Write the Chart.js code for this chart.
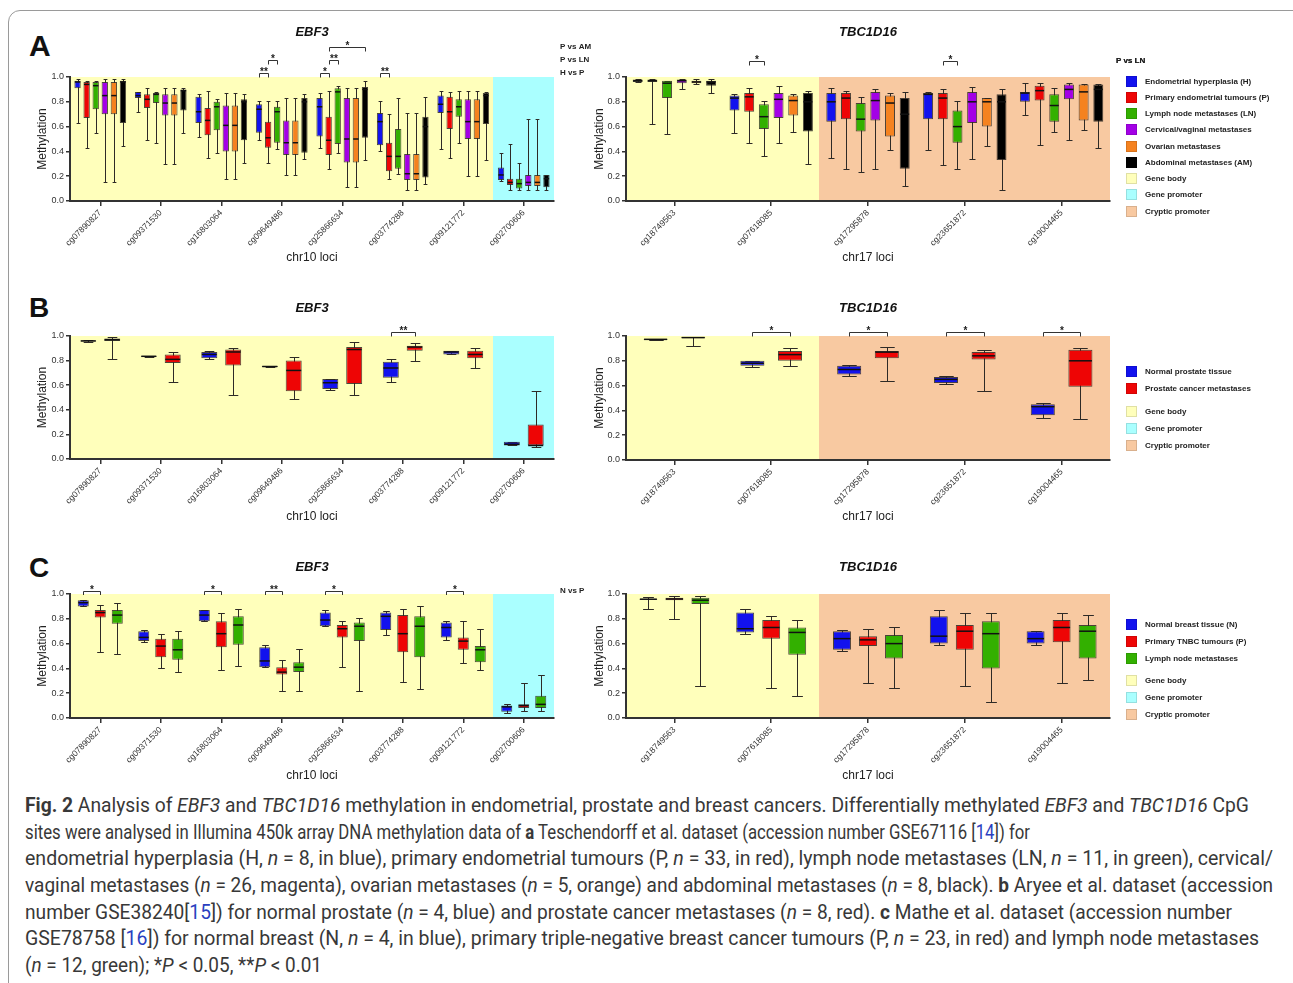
<!DOCTYPE html>
<html><head><meta charset="utf-8">
<script src="https://cdn.jsdelivr.net/npm/chart.js@4.4.1/dist/chart.umd.min.js"></script>
<style>
html,body{margin:0;padding:0;background:#fff;}
body{width:1293px;height:983px;position:relative;overflow:hidden;font-family:'Liberation Sans',Arial,sans-serif;}
.card{position:absolute;left:8px;top:10px;width:1320px;height:1010px;border:1px solid #9a9a9a;border-radius:12px;box-sizing:border-box;}
canvas{position:absolute;}
.letter{position:absolute;font-weight:bold;line-height:1;color:#111;}
.lg{position:absolute;font-size:8px;font-weight:bold;color:#222;white-space:nowrap;line-height:11px;}
.sw{position:absolute;width:11px;height:11px;box-sizing:border-box;border:1px solid rgba(0,0,0,0.12);}
.cap{position:absolute;left:25px;white-space:nowrap;font-family:Roboto,'DejaVu Sans Condensed',sans-serif;font-size:20px;line-height:24px;color:#383838;transform-origin:0 50%;}
.cap .ref{color:#2a3fc0;}
</style></head>
<body>
<div class="card"></div>
<div class="letter" style="left:29px;top:31px;font-size:30px;">A</div>
<div class="letter" style="left:29px;top:294px;font-size:28px;">B</div>
<div class="letter" style="left:29px;top:554px;font-size:28px;">C</div>

<div class="cap" style="top:793px"><b>Fig. 2</b> Analysis of <i>EBF3</i> and <i>TBC1D16</i> methylation in endometrial, prostate and breast cancers. Differentially methylated <i>EBF3</i> and <i>TBC1D16</i> CpG</div>
<div class="cap" style="top:820px">sites were analysed in Illumina 450k array DNA methylation data of <b>a</b> Teschendorff et al. dataset (accession number GSE67116 [<span class="ref">14</span>]) for</div>
<div class="cap" style="top:846px">endometrial hyperplasia (H, <i>n</i> = 8, in blue), primary endometrial tumours (P, <i>n</i> = 33, in red), lymph node metastases (LN, <i>n</i> = 11, in green), cervical/</div>
<div class="cap" style="top:873px">vaginal metastases (<i>n</i> = 26, magenta), ovarian metastases (<i>n</i> = 5, orange) and abdominal metastases (<i>n</i> = 8, black). <b>b</b> Aryee et al. dataset (accession</div>
<div class="cap" style="top:900px">number GSE38240[<span class="ref">15</span>]) for normal prostate (<i>n</i> = 4, blue) and prostate cancer metastases (<i>n</i> = 8, red). <b>c</b> Mathe et al. dataset (accession number</div>
<div class="cap" style="top:926px">GSE78758 [<span class="ref">16</span>]) for normal breast (N, <i>n</i> = 4, in blue), primary triple-negative breast cancer tumours (P, <i>n</i> = 23, in red) and lymph node metastases</div>
<div class="cap" style="top:953px">(<i>n</i> = 12, green); *<i>P</i> &lt; 0.05, **<i>P</i> &lt; 0.01</div>

<script>
// ---------------- DATA ----------------
const EBF3_LOCI = ['cg07890827','cg09371530','cg16803064','cg09649486','cg25866634','cg03774288','cg09121772','cg02700606'];
const TBC1D16_LOCI = ['cg18749563','cg07618085','cg17295878','cg23651872','cg19004465'];
const EBF3_REGIONS = ['body','body','body','body','body','body','body','promoter'];
const TBC1D16_REGIONS = ['body','body','cryptic','cryptic','cryptic'];
const Y_TICKS = [0, 0.2, 0.4, 0.6, 0.8, 1.0];

const GROUPS_A = ['Endometrial hyperplasia (H)','Primary endometrial tumours (P)','Lymph node metastases (LN)','Cervical/vaginal metastases','Ovarian metastases','Abdominal metastases (AM)'];
const GROUPS_B = ['Normal prostate tissue','Prostate cancer metastases'];
const GROUPS_C = ['Normal breast tissue (N)','Primary TNBC tumours (P)','Lymph node metastases'];
const REGION_NAMES = ['Gene body','Gene promoter','Cryptic promoter'];

// box stats: [min, q1, median, q3, max]
const A_EBF3_H  = [[0.63,0.91,0.96,0.97,0.98],[0.72,0.83,0.85,0.88,0.88],[0.52,0.63,0.72,0.84,0.86],[0.49,0.55,0.74,0.78,0.81],[0.43,0.52,0.76,0.83,0.87],[0.40,0.45,0.64,0.71,0.81],[0.42,0.71,0.78,0.85,0.89],[0.16,0.17,0.21,0.27,0.39]];
const A_EBF3_P  = [[0.43,0.67,0.94,0.96,0.97],[0.49,0.75,0.82,0.86,0.91],[0.35,0.53,0.65,0.75,0.89],[0.31,0.43,0.51,0.64,0.81],[0.26,0.37,0.49,0.68,0.89],[0.18,0.24,0.36,0.47,0.70],[0.35,0.58,0.72,0.84,0.88],[0.09,0.13,0.15,0.18,0.46]];
const A_EBF3_LN = [[0.55,0.74,0.93,0.96,0.97],[0.47,0.79,0.86,0.87,0.88],[0.39,0.57,0.76,0.80,0.82],[0.42,0.47,0.72,0.76,0.81],[0.39,0.46,0.88,0.91,0.93],[0.22,0.26,0.36,0.58,0.83],[0.47,0.68,0.76,0.82,0.89],[0.09,0.10,0.14,0.18,0.31]];
const A_EBF3_CV = [[0.15,0.70,0.85,0.96,0.98],[0.30,0.69,0.79,0.86,0.91],[0.18,0.40,0.61,0.77,0.87],[0.21,0.37,0.47,0.65,0.83],[0.11,0.31,0.50,0.83,0.91],[0.09,0.17,0.22,0.38,0.71],[0.20,0.50,0.64,0.82,0.89],[0.09,0.12,0.15,0.21,0.66]];
const A_EBF3_O  = [[0.15,0.70,0.85,0.96,0.98],[0.30,0.69,0.79,0.86,0.91],[0.18,0.40,0.61,0.77,0.87],[0.21,0.37,0.47,0.65,0.83],[0.11,0.31,0.50,0.83,0.91],[0.09,0.17,0.22,0.38,0.71],[0.20,0.50,0.64,0.82,0.89],[0.09,0.12,0.15,0.21,0.66]];
const A_EBF3_AM = [[0.44,0.63,0.96,0.97,0.98],[0.55,0.73,0.89,0.90,0.91],[0.31,0.49,0.80,0.82,0.86],[0.34,0.39,0.80,0.83,0.86],[0.33,0.51,0.90,0.92,0.97],[0.14,0.19,0.60,0.68,0.84],[0.33,0.62,0.85,0.87,0.88],[0.09,0.11,0.18,0.21,0.21]];

const A_TBC_H  = [[0.96,0.96,0.97,0.98,0.98],[0.55,0.73,0.83,0.85,0.86],[0.35,0.64,0.80,0.87,0.91],[0.41,0.66,0.86,0.87,0.88],[0.69,0.80,0.87,0.88,0.95]];
const A_TBC_P  = [[0.62,0.96,0.97,0.98,0.98],[0.47,0.72,0.84,0.87,0.91],[0.26,0.66,0.83,0.87,0.89],[0.29,0.66,0.83,0.87,0.90],[0.45,0.81,0.89,0.93,0.95]];
const A_TBC_LN = [[0.54,0.83,0.95,0.97,0.97],[0.36,0.58,0.68,0.78,0.81],[0.23,0.56,0.66,0.79,0.84],[0.26,0.47,0.60,0.73,0.81],[0.56,0.64,0.77,0.86,0.91]];
const A_TBC_CV = [[0.90,0.95,0.97,0.98,0.98],[0.47,0.67,0.82,0.87,0.93],[0.26,0.65,0.81,0.88,0.90],[0.34,0.63,0.80,0.88,0.92],[0.49,0.82,0.90,0.94,0.95]];
const A_TBC_O  = [[0.94,0.95,0.96,0.97,0.98],[0.56,0.69,0.81,0.85,0.86],[0.41,0.52,0.79,0.85,0.87],[0.44,0.60,0.80,0.83,0.83],[0.57,0.65,0.88,0.94,0.94]];
const A_TBC_AM = [[0.87,0.93,0.96,0.97,0.98],[0.30,0.56,0.80,0.87,0.89],[0.12,0.26,0.70,0.83,0.88],[0.09,0.33,0.80,0.86,0.90],[0.43,0.64,0.90,0.94,0.94]];

const B_EBF3_N = [[0.955,0.956,0.96,0.964,0.965],[0.83,0.832,0.835,0.838,0.84],[0.81,0.82,0.85,0.87,0.88],[0.745,0.747,0.752,0.756,0.758],[0.56,0.57,0.62,0.65,0.65],[0.63,0.66,0.74,0.79,0.81],[0.85,0.85,0.87,0.88,0.88],[0.11,0.11,0.12,0.14,0.14]];
const B_EBF3_M = [[0.81,0.96,0.97,0.98,0.99],[0.63,0.78,0.81,0.85,0.87],[0.52,0.76,0.87,0.89,0.90],[0.49,0.55,0.72,0.80,0.83],[0.52,0.61,0.89,0.91,0.95],[0.80,0.88,0.91,0.92,0.94],[0.74,0.82,0.85,0.88,0.90],[0.10,0.11,0.11,0.28,0.55]];
const B_TBC_N = [[0.968,0.969,0.973,0.976,0.978],[0.75,0.76,0.78,0.80,0.80],[0.68,0.69,0.73,0.76,0.77],[0.61,0.62,0.65,0.67,0.68],[0.34,0.36,0.43,0.45,0.46]];
const B_TBC_M = [[0.92,0.984,0.987,0.99,0.99],[0.76,0.80,0.85,0.88,0.90],[0.64,0.82,0.87,0.88,0.91],[0.56,0.81,0.84,0.87,0.89],[0.33,0.59,0.80,0.89,0.90]];

const C_EBF3_N  = [[0.90,0.90,0.93,0.95,0.95],[0.61,0.62,0.65,0.70,0.71],[0.78,0.78,0.83,0.87,0.87],[0.41,0.41,0.46,0.57,0.59],[0.74,0.74,0.79,0.85,0.87],[0.67,0.71,0.82,0.85,0.86],[0.63,0.65,0.73,0.77,0.78],[0.04,0.05,0.09,0.10,0.11]];
const C_EBF3_P  = [[0.53,0.81,0.85,0.87,0.91],[0.40,0.49,0.58,0.64,0.68],[0.39,0.57,0.68,0.78,0.85],[0.22,0.35,0.37,0.41,0.47],[0.41,0.65,0.72,0.75,0.78],[0.29,0.53,0.68,0.83,0.88],[0.44,0.55,0.62,0.65,0.78],[0.06,0.08,0.10,0.11,0.28]];
const C_EBF3_LN = [[0.52,0.76,0.83,0.87,0.93],[0.37,0.47,0.55,0.64,0.70],[0.42,0.59,0.75,0.82,0.88],[0.22,0.37,0.41,0.45,0.56],[0.22,0.62,0.74,0.77,0.81],[0.23,0.49,0.74,0.82,0.90],[0.39,0.45,0.55,0.58,0.72],[0.06,0.08,0.11,0.18,0.35]];
const C_TBC_N  = [[0.88,0.954,0.958,0.962,0.976],[0.68,0.69,0.72,0.85,0.88],[0.54,0.55,0.64,0.70,0.71],[0.59,0.60,0.66,0.82,0.87],[0.59,0.60,0.64,0.70,0.70]];
const C_TBC_P  = [[0.80,0.95,0.96,0.97,0.98],[0.24,0.64,0.73,0.79,0.82],[0.28,0.58,0.63,0.66,0.72],[0.26,0.55,0.70,0.75,0.85],[0.28,0.61,0.73,0.79,0.85]];
const C_TBC_LN = [[0.26,0.92,0.95,0.97,0.98],[0.18,0.51,0.69,0.73,0.79],[0.24,0.48,0.60,0.67,0.73],[0.13,0.40,0.68,0.78,0.85],[0.31,0.48,0.70,0.75,0.83]];

// significance: [locus index, group a, group b, label, comparison row]
const SIG_A_EBF3 = [[3,0,1,'**',0],[3,1,2,'*',1],[4,0,1,'*',0],[4,1,2,'**',1],[4,1,5,'*',2],[5,0,1,'**',0]];
const ROWS_A_EBF3 = ['H vs P','P vs LN','P vs AM'];
const SIG_A_TBC = [[1,1,2,'*',0],[3,1,2,'*',0]];
const ROWS_A_TBC = ['P vs LN'];
const SIG_B_EBF3 = [[5,0,1,'**',0]];
const SIG_B_TBC = [[1,0,1,'*',0],[2,0,1,'*',0],[3,0,1,'*',0],[4,0,1,'*',0]];
const SIG_C_EBF3 = [[0,0,1,'*',0],[2,0,1,'*',0],[3,0,1,'**',0],[4,0,1,'*',0],[6,0,1,'*',0]];
const ROWS_C_EBF3 = ['N vs P'];

// ---------------- STYLE ----------------
const FONT = "'Liberation Sans', Arial, sans-serif";
const COLORS_A = ['#1212ee','#ee0505','#33b000','#a300e6','#f5821f','#000000'];
const COLORS_B = ['#1212ee','#ee0505'];
const COLORS_C = ['#1212ee','#ee0505','#33b000'];
const REGION_COLORS = {body:'#ffffbb', promoter:'#aaffff', cryptic:'#f8c9a1'};

const boxPlugin = {
  id: 'boxes',
  beforeDraw(chart, args, o) {
    const {ctx, chartArea: a} = chart; const x = chart.scales.x;
    const n = o.regions.length;
    ctx.save();
    for (let i = 0; i < n; i++) {
      const l = i === 0 ? a.left : (x.getPixelForValue(i - 1) + x.getPixelForValue(i)) / 2;
      const r = i === n - 1 ? a.right : (x.getPixelForValue(i) + x.getPixelForValue(i + 1)) / 2;
      ctx.fillStyle = REGION_COLORS[o.regions[i]];
      ctx.fillRect(Math.floor(l), a.top, Math.ceil(r) - Math.floor(l), a.bottom - a.top);
    }
    ctx.restore();
  },
  beforeDatasetsDraw(chart) {
    const {ctx} = chart; const y = chart.scales.y;
    ctx.save(); ctx.strokeStyle = '#2e2a26'; ctx.lineWidth = 1;
    chart.data.datasets.forEach((ds, di) => {
      chart.getDatasetMeta(di).data.forEach((el, j) => {
        const s = ds.stats[j];
        const cx = Math.round(el.x) + 0.5, hw = el.width * 0.3;
        const y0 = Math.round(y.getPixelForValue(s[0])) + 0.5, y4 = Math.round(y.getPixelForValue(s[4])) + 0.5;
        ctx.beginPath();
        ctx.moveTo(cx, y0); ctx.lineTo(cx, y4);
        ctx.moveTo(cx - hw, y0); ctx.lineTo(cx + hw, y0);
        ctx.moveTo(cx - hw, y4); ctx.lineTo(cx + hw, y4);
        ctx.stroke();
      });
    });
    ctx.restore();
  },
  afterDatasetsDraw(chart) {
    const {ctx} = chart; const y = chart.scales.y;
    ctx.save(); ctx.strokeStyle = '#111'; ctx.lineWidth = 1.5;
    chart.data.datasets.forEach((ds, di) => {
      chart.getDatasetMeta(di).data.forEach((el, j) => {
        const s = ds.stats[j];
        const ym = y.getPixelForValue(s[2]);
        ctx.beginPath();
        ctx.moveTo(el.x - el.width / 2 + 0.5, ym); ctx.lineTo(el.x + el.width / 2 - 0.5, ym);
        ctx.stroke();
      });
    });
    ctx.restore();
  },
  afterDraw(chart, args, o) {
    const {ctx, chartArea: a} = chart;
    ctx.save();
    ctx.strokeStyle = '#333'; ctx.lineWidth = 1; ctx.fillStyle = '#222';
    (o.sigs || []).forEach(([cat, g1, g2, lab, row]) => {
      const e1 = chart.getDatasetMeta(g1).data[cat], e2 = chart.getDatasetMeta(g2).data[cat];
      const yy = Math.round(a.top - o.rowOffsets[row]) + 0.5;
      const x1 = Math.round(e1.x) + 0.5, x2 = Math.round(e2.x) + 0.5;
      ctx.beginPath();
      ctx.moveTo(x1, yy + o.tick); ctx.lineTo(x1, yy); ctx.lineTo(x2, yy); ctx.lineTo(x2, yy + o.tick);
      ctx.stroke();
      ctx.font = 'bold 10px ' + FONT; ctx.textAlign = 'center'; ctx.textBaseline = 'alphabetic';
      ctx.fillText(lab, (x1 + x2) / 2, yy + 1.5);
    });
    ctx.font = 'bold 8px ' + FONT; ctx.textAlign = 'left'; ctx.textBaseline = 'middle';
    (o.rowLabels || []).forEach((t, row) => {
      ctx.fillText(t, a.right + 6, a.top - o.rowOffsets[row]);
    });
    ctx.restore();
  }
};

function makeChart(cfg) {
  const c = document.createElement('canvas');
  c.width = cfg.box[2]; c.height = cfg.box[3];
  c.style.left = cfg.box[0] + 'px'; c.style.top = cfg.box[1] + 'px';
  c.style.width = cfg.box[2] + 'px'; c.style.height = cfg.box[3] + 'px';
  document.body.appendChild(c);
  const datasets = cfg.series.map((s, i) => ({
    label: cfg.names[i],
    data: s.map(v => [v[1], v[3]]),
    stats: s,
    backgroundColor: cfg.colors[i],
    borderColor: 'rgba(45,40,35,0.85)',
    borderWidth: 1,
    borderSkipped: false,
    categoryPercentage: cfg.catPct,
    barPercentage: cfg.barPct
  }));
  return new Chart(c, {
    type: 'bar',
    data: {labels: cfg.labels, datasets},
    options: {
      responsive: false, animation: false, devicePixelRatio: 1, events: [],
      layout: {padding: cfg.pad},
      plugins: {
        legend: {display: false}, tooltip: {enabled: false},
        title: {display: true, text: cfg.title, fullSize: false, color: '#111',
          font: {family: FONT, size: 13, weight: 'bold', style: 'italic', lineHeight: 1.2},
          padding: cfg.titlePad},
        boxes: {regions: cfg.regions, sigs: cfg.sigs, rowOffsets: cfg.rowOffsets, rowLabels: cfg.rowLabels, tick: cfg.tick}
      },
      scales: {
        x: {
          offset: true,
          grid: {display: true, drawOnChartArea: false, drawTicks: true, tickLength: 5, offset: false, color: '#333', lineWidth: 1.5},
          border: {display: true, color: '#333', width: 2},
          ticks: {autoSkip: false, minRotation: 45, maxRotation: 45, color: '#333', font: {family: FONT, size: 8.5}, padding: 2},
          title: {display: true, text: cfg.xTitle, color: '#222', font: {family: FONT, size: 12, lineHeight: 1.2}, padding: {top: 0, bottom: cfg.xTitlePad}},
          afterFit: s => { s.height = cfg.xH; }
        },
        y: {
          min: 0, max: 1,
          afterBuildTicks: s => { s.ticks = Y_TICKS.map(v => ({value: v})); },
          ticks: {callback: v => Number(v).toFixed(1), color: '#333', font: {family: FONT, size: 9}, padding: 2},
          grid: {drawOnChartArea: false, tickLength: 4, color: '#333', lineWidth: 1.5},
          border: {display: true, color: '#333', width: 2},
          title: {display: true, text: 'Methylation', color: '#222', font: {family: FONT, size: 12, lineHeight: 1.2}, padding: {top: cfg.yTitlePad, bottom: 0}},
          afterFit: s => { s.width = cfg.yW; }
        }
      }
    },
    plugins: [boxPlugin]
  });
}

// Panel A
makeChart({box:[20,20,580,250], pad:{left:0,right:46,top:0,bottom:0}, yW:50, xH:69,
  titlePad:{top:4.2,bottom:37.2}, yTitlePad:15.8, xTitlePad:4.8,
  title:'EBF3', xTitle:'chr10 loci', labels:EBF3_LOCI, regions:EBF3_REGIONS,
  series:[A_EBF3_H,A_EBF3_P,A_EBF3_LN,A_EBF3_CV,A_EBF3_O,A_EBF3_AM], names:GROUPS_A, colors:COLORS_A,
  catPct:0.9, barPct:0.7, sigs:SIG_A_EBF3, rowOffsets:[4.5,17,30], rowLabels:ROWS_A_EBF3, tick:4});
makeChart({box:[585,20,708,250], pad:{left:0,right:183,top:0,bottom:0}, yW:41, xH:69,
  titlePad:{top:4.2,bottom:37.2}, yTitlePad:7.8, xTitlePad:4.8,
  title:'TBC1D16', xTitle:'chr17 loci', labels:TBC1D16_LOCI, regions:TBC1D16_REGIONS,
  series:[A_TBC_H,A_TBC_P,A_TBC_LN,A_TBC_CV,A_TBC_O,A_TBC_AM], names:GROUPS_A, colors:COLORS_A,
  catPct:0.91, barPct:0.68, sigs:SIG_A_TBC, rowOffsets:[16], rowLabels:ROWS_A_TBC, tick:4});
// Panel B
makeChart({box:[20,290,580,250], pad:{left:0,right:46,top:0,bottom:0}, yW:50, xH:81,
  titlePad:{top:10.2,bottom:20.2}, yTitlePad:15.8, xTitlePad:15.8,
  title:'EBF3', xTitle:'chr10 loci', labels:EBF3_LOCI, regions:EBF3_REGIONS,
  series:[B_EBF3_N,B_EBF3_M], names:GROUPS_B, colors:COLORS_B,
  catPct:0.79, barPct:0.67, sigs:SIG_B_EBF3, rowOffsets:[4.5], rowLabels:[], tick:4});
makeChart({box:[585,290,708,250], pad:{left:0,right:183,top:0,bottom:0}, yW:41, xH:80,
  titlePad:{top:10.2,bottom:20.2}, yTitlePad:7.8, xTitlePad:15.8,
  title:'TBC1D16', xTitle:'chr17 loci', labels:TBC1D16_LOCI, regions:TBC1D16_REGIONS,
  series:[B_TBC_N,B_TBC_M], names:GROUPS_B, colors:COLORS_B,
  catPct:0.777, barPct:0.64, sigs:SIG_B_TBC, rowOffsets:[4.5], rowLabels:[], tick:4});
// Panel C
makeChart({box:[20,550,580,240], pad:{left:0,right:46,top:0,bottom:0}, yW:50, xH:72,
  titlePad:{top:9.2,bottom:19.2}, yTitlePad:15.8, xTitlePad:6.8,
  title:'EBF3', xTitle:'chr10 loci', labels:EBF3_LOCI, regions:EBF3_REGIONS,
  series:[C_EBF3_N,C_EBF3_P,C_EBF3_LN], names:GROUPS_C, colors:COLORS_C,
  catPct:0.843, barPct:0.65, sigs:SIG_C_EBF3, rowOffsets:[3.5], rowLabels:ROWS_C_EBF3, tick:3.5});
makeChart({box:[585,550,708,240], pad:{left:0,right:183,top:0,bottom:0}, yW:41, xH:72,
  titlePad:{top:9.2,bottom:19.2}, yTitlePad:7.8, xTitlePad:6.8,
  title:'TBC1D16', xTitle:'chr17 loci', labels:TBC1D16_LOCI, regions:TBC1D16_REGIONS,
  series:[C_TBC_N,C_TBC_P,C_TBC_LN], names:GROUPS_C, colors:COLORS_C,
  catPct:0.806, barPct:0.69, sigs:[], rowOffsets:[3.5], rowLabels:[], tick:3.5});

// Legends
function legend(names, colors, y0, step, gapAt, gap) {
  const regionCols = [REGION_COLORS.body, REGION_COLORS.promoter, REGION_COLORS.cryptic];
  const items = names.map((n, i) => [n, colors[i]]).concat(REGION_NAMES.map((n, i) => [n, regionCols[i]]));
  items.forEach(([n, col], i) => {
    const cy = y0 + i * step + (i >= gapAt ? gap : 0);
    const sw = document.createElement('div'); sw.className = 'sw';
    sw.style.left = '1126px'; sw.style.top = (cy - 5.5) + 'px'; sw.style.background = col;
    document.body.appendChild(sw);
    const t = document.createElement('div'); t.className = 'lg'; t.textContent = n;
    t.style.left = '1145px'; t.style.top = (cy - 5.5) + 'px';
    document.body.appendChild(t);
  });
}
legend(GROUPS_A, COLORS_A, 81, 16.25, 99, 0);
legend(GROUPS_B, COLORS_B, 371, 17, 2, 6);
legend(GROUPS_C, COLORS_C, 624, 17, 3, 5);
const pvl = document.createElement('div'); pvl.className = 'lg'; pvl.textContent = 'P vs LN';
pvl.style.left = '1116px'; pvl.style.top = '54.5px'; document.body.appendChild(pvl);

// caption: each line fitted to its end position in the reference layout
const CAP_ENDS = [1249, 1030, 1273, 1273, 1232, 1259, 322];
function fitCaption() {
  document.querySelectorAll('.cap').forEach((d, i) => {
    d.style.transform = 'none';
    const w = d.getBoundingClientRect().width;
    d.style.transform = 'scaleX(' + ((CAP_ENDS[i] - 25) / w) + ')';
  });
}
fitCaption();
if (document.fonts && document.fonts.ready) document.fonts.ready.then(fitCaption);
</script>
</body></html>
